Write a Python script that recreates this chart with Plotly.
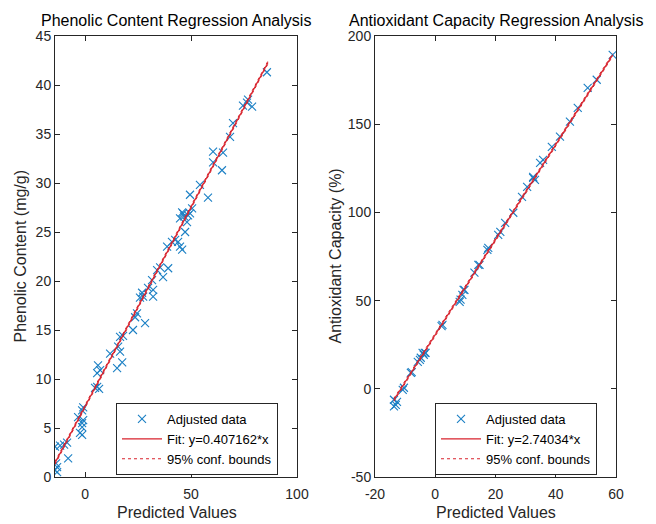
import plotly.graph_objects as go

# ---------------- data ----------------
# Left panel: Phenolic content
phen_x = [-14.2, -13.2, -13.7, -14.2, -11.8, -9.9, -8.0, -8.5, -13.2,
          -2.4, -1.4, -1.4, -0.9, -3.3, -1.4, -0.9, -1.4,
          5.7, 6.6, 4.7, 5.7, 6.1, 7.1, 11.8, 15.1, 17.5, 16.5, 15.6,
          16.5, 17.9, 22.6, 23.6, 24.5, 28.3, 25.9, 27.4, 26.9, 29.7, 32.1, 32.1,
          31.6, 34.0, 35.4, 39.2, 36.8, 38.7, 44.8, 43.9, 45.8, 41.0, 42.5,
          44.8, 45.8, 46.7, 48.1, 47.2, 49.5, 50.5, 49.5, 46.2, 48.6,
          54.2, 58.0, 64.6, 60.4, 60.4, 65.1, 68.4, 69.8,
          74.5, 76.4, 78.8, 76.9, 85.8]
phen_y = [0.7, 1.0, 1.4, 3.1, 3.2, 3.3, 1.9, 3.5, 0.5,
          4.5, 5.1, 5.5, 5.8, 6.1, 6.8, 7.1, 4.3,
          9.2, 9.0, 9.1, 10.6, 11.4, 10.9, 12.6, 11.1, 11.7, 12.8, 13.3,
          14.3, 14.4, 15.0, 16.3, 16.7, 15.7, 18.3, 18.4, 18.8, 19.3, 19.1, 18.4,
          20.1, 21.1, 21.4, 21.3, 20.4, 23.5, 23.5, 24.0, 23.2, 24.0, 24.2,
          26.4, 27.0, 26.6, 26.0, 25.0, 26.9, 27.4, 28.8, 26.9, 26.7,
          29.8, 28.5, 31.3, 33.2, 32.1, 33.1, 34.7, 36.1,
          37.9, 38.2, 37.8, 38.5, 41.3]
phen_fit_x = [-14.2, 86.3]
phen_fit_y = [1.43, 42.3]
phen_bound = 0.15

# Right panel: Antioxidant capacity
anti_x = [-13.7, -13.1, -13.7, -12.7, -10.8, -10.4, -8.1, -7.8, -5.8, -5.1, -4.8,
          -4.2, -3.8, -3.2, -3.5, 2.4, 2.1, 8.1, 8.4, 9.0, 9.4, 9.7, 13.0, 14.3,
          14.7, 17.3, 17.6, 20.9, 21.6, 23.2, 25.9, 28.8, 30.5, 32.5, 33.1, 32.5,
          34.8, 35.8, 38.7, 41.4, 44.7, 47.3, 50.6, 53.6, 58.9]
anti_y = [-6.2, -9.1, -10.0, -7.4, -0.6, 0.6, 9.0, 9.5, 15.3, 16.4, 17.6,
          20.4, 19.3, 20.4, 20.4, 36.3, 35.5, 49.3, 50.5, 53.3, 56.1, 56.1, 65.8, 70.3,
          70.3, 78.8, 79.9, 87.3, 89.0, 94.1, 99.8, 108.8, 114.5, 119.6, 118.5, 120.2,
          128.1, 129.8, 137.2, 142.9, 151.4, 159.3, 170.6, 175.2, 189.3]
anti_fit_x = [-13.7, 58.9]
anti_fit_y = [-6.2, 189.3]
anti_bound = 0.8

phen_ticks_x = [0, 50, 100]
phen_ticks_y = [0, 5, 10, 15, 20, 25, 30, 35, 40, 45]
anti_ticks_x = [-20, 0, 20, 40, 60]
anti_ticks_y = [-50, 0, 50, 100, 150, 200]

labels_left = ["Adjusted data", "Fit: y=0.407162*x", "95% conf. bounds"]
labels_right = ["Adjusted data", "Fit: y=2.74034*x", "95% conf. bounds"]
titles = ["Phenolic Content Regression Analysis", "Antioxidant Capacity Regression Analysis"]
xtitles = ["Predicted Values", "Predicted Values"]
ytitles = ["Phenolic Content (mg/g)", "Antioxidant Capacity (%)"]

# ---------------- styles ----------------
BLUE = "#1a7fc4"
RED = "#d8222c"
AX = "#262626"
FONT = "Arial, Liberation Sans, sans-serif"

# The page places the figure at an 8px body margin; lay out in window pixels.
OFF = 8
WIN_W, WIN_H = 656, 524
W, H = WIN_W - OFF, WIN_H - OFF
AX_L, AX_R, AX_T, AX_B = 55, 616, 36, 477        # window pixels of the plot block
L, T = AX_L - OFF, AX_T - OFF
R, B = WIN_W - AX_R, WIN_H - AX_B
pw = AX_R - AX_L
ph = AX_B - AX_T
d1 = [0, (297 - AX_L) / pw]
d2 = [(375 - AX_L) / pw, 1]


def px_x(p):
    return (p - AX_L) / pw


def px_y(p):
    return (AX_B - p) / ph


def tick_text(vals):
    return [str(v) for v in vals]   # ASCII hyphen for negatives, as in the reference


fig = go.Figure()


def add_panel(xs, ys, fx, fy, b, labels, xa, ya, leg):
    fig.add_trace(go.Scatter(
        x=xs, y=ys, mode="markers", name=labels[0], xaxis=xa, yaxis=ya, legend=leg,
        marker=dict(symbol="x-thin", size=8, color=BLUE, line=dict(color=BLUE, width=1.1))))
    fig.add_trace(go.Scatter(
        x=fx, y=fy, mode="lines", name=labels[1], xaxis=xa, yaxis=ya, legend=leg,
        line=dict(color=RED, width=1.2)))
    bx = [fx[0], fx[1], None, fx[0], fx[1]]
    by = [fy[0] + b, fy[1] + b, None, fy[0] - b, fy[1] - b]
    fig.add_trace(go.Scatter(
        x=bx, y=by, mode="lines", name=labels[2], xaxis=xa, yaxis=ya, legend=leg,
        connectgaps=False, line=dict(color=RED, width=1, dash="dot")))


add_panel(phen_x, phen_y, phen_fit_x, phen_fit_y, phen_bound, labels_left, "x", "y", "legend")
add_panel(anti_x, anti_y, anti_fit_x, anti_fit_y, anti_bound, labels_right, "x2", "y2", "legend2")

axis_common = dict(showline=True, linecolor=AX, linewidth=1, mirror="ticks",
                   ticks="inside", ticklen=5, tickcolor=AX, showgrid=False, zeroline=False,
                   tickfont=dict(family=FONT, size=14, color=AX))
xaxis_extra = dict(ticklabelstandoff=4)

legend_common = dict(bgcolor="white", bordercolor=AX, borderwidth=1,
                     font=dict(family=FONT, size=13, color="black"),
                     xanchor="left", yanchor="top", tracegroupgap=0, itemwidth=40)

fig.update_layout(
    width=W, height=H, margin=dict(l=L, r=R, t=T, b=B, autoexpand=False),
    paper_bgcolor="white", plot_bgcolor="white",
    font=dict(family=FONT, color=AX),
    xaxis=dict(domain=d1, range=[-14.2, 100], tickvals=phen_ticks_x,
               ticktext=tick_text(phen_ticks_x), **axis_common, **xaxis_extra),
    yaxis=dict(domain=[0, 1], range=[0, 45], tickvals=phen_ticks_y,
               ticktext=tick_text(phen_ticks_y), **axis_common),
    xaxis2=dict(domain=d2, range=[-20, 60], tickvals=anti_ticks_x, anchor="y2",
                ticktext=tick_text(anti_ticks_x), **axis_common, **xaxis_extra),
    yaxis2=dict(domain=[0, 1], range=[-50, 200], tickvals=anti_ticks_y, anchor="x2",
                ticktext=tick_text(anti_ticks_y), **axis_common),
    legend=dict(x=px_x(116), y=px_y(403), **legend_common),
    legend2=dict(x=px_x(435), y=px_y(403), **legend_common),
    showlegend=True,
)

ann = []
for d, t in zip([d1, d2], titles):
    ann.append(dict(text=t, xref="paper", yref="paper", x=(d[0] + d[1]) / 2, y=1,
                    xanchor="center", yanchor="bottom", yshift=5, showarrow=False,
                    font=dict(family=FONT, size=16, color="black")))
for cx, t in zip([176.5, 495.5], xtitles):
    ann.append(dict(text=t, xref="paper", yref="paper", x=px_x(cx), y=px_y(512),
                    xanchor="center", yanchor="middle", showarrow=False,
                    font=dict(family=FONT, size=16, color=AX)))
for cx, t in zip([20, 335], ytitles):
    ann.append(dict(text=t, xref="paper", yref="paper", x=px_x(cx), y=0.5, textangle=-90,
                    xanchor="center", yanchor="middle", showarrow=False,
                    font=dict(family=FONT, size=16, color=AX)))
fig.update_layout(annotations=ann)

fig.write_html("out.html")
